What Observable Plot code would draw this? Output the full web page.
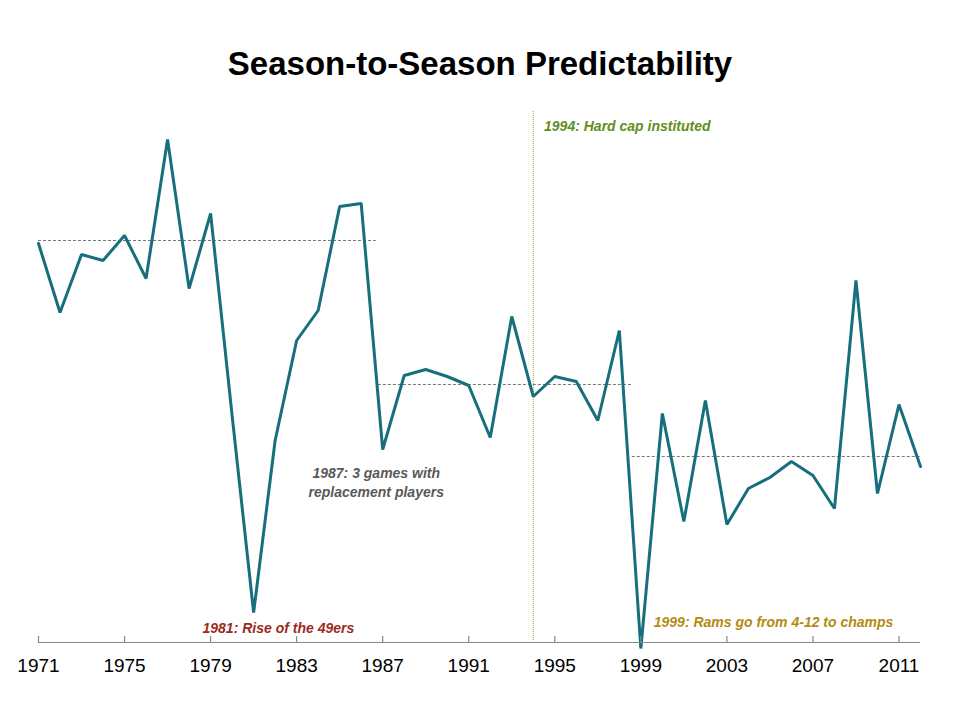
<!DOCTYPE html>
<html><head><meta charset="utf-8">
<script src="https://cdn.jsdelivr.net/npm/d3@7"></script>
<script src="https://cdn.jsdelivr.net/npm/@observablehq/plot@0.6"></script>
<style>
body{margin:0;background:#fff;font-family:"Liberation Sans",Arial,sans-serif;}
#title{height:90px;box-sizing:border-box;padding-top:44px;text-align:center;font-weight:bold;font-size:33px;line-height:40px;color:#000;}
</style></head><body>
<div id="title">Season-to-Season Predictability</div>
<div id="chart"></div>
<script>
const years = d3.range(1971, 2013);
const values = [407,338,396,390,415,372,511,362,437,235,38,210,310,340,444,447,201,275,281,274,265,213,334,254,274,269,230,320,2,237,129,250,126,162,173,189,175,142,370,157,246,184];
const eras = [{x1:1971,x2:1986.7,v:410},{x1:1986.8,x2:1998.6,v:266},{x1:1998.6,x2:2012,v:194}];
const tickYears = [1971,1975,1979,1983,1987,1991,1995,1999,2003,2007,2011];
const notesStart = [
  {x:1994.5,v:524,text:"1994: Hard cap instituted",fill:"#5f8f1a"},
  {x:1999.6,v:28,text:"1999: Rams go from 4-12 to champs",fill:"#b58a10"}
];
const notesMid = [
  {x:1986.7,v:177,text:"1987: 3 games with",fill:"#595959"},
  {x:1986.7,v:158,text:"replacement players",fill:"#595959"},
  {x:1982.15,v:22,text:"1981: Rise of the 49ers",fill:"#9b2a22"}
];
const data = years.map((y,i)=>({year:y,v:values[i]}));
const chart = Plot.plot({
  width:960, height:630, marginLeft:38, marginRight:40, marginTop:0, marginBottom:78,
  style:{fontFamily:"Liberation Sans, Arial, sans-serif"},
  x:{domain:[1971,2012], axis:null},
  y:{domain:[8,560], axis:null},
  marks:[
    Plot.ruleX([1994],{y1:10,y2:540,stroke:"#9aa640",strokeWidth:1,strokeDasharray:"1,1"}),
    Plot.ruleY(eras,{x1:"x1",x2:"x2",y:"v",stroke:"#555",strokeWidth:0.8,strokeDasharray:"3,2"}),
    Plot.line(data,{x:"year",y:"v",stroke:"#176f7d",strokeWidth:3,strokeLinejoin:"miter"}),
    Plot.ruleY([8],{x1:1971,x2:2012,stroke:"#888",strokeWidth:1.2}),
    Plot.ruleX(tickYears,{y1:8,y2:14,stroke:"#888",strokeWidth:1.2}),
    Plot.text(tickYears,{x:d=>d,y:8,dy:23,text:d=>String(d),fontSize:19,fill:"#000"}),
    Plot.text(notesStart,{x:"x",y:"v",text:"text",fill:"fill",textAnchor:"start",fontSize:14,fontWeight:"bold",fontStyle:"italic"}),
    Plot.text(notesMid,{x:"x",y:"v",text:"text",fill:"fill",textAnchor:"middle",fontSize:14,fontWeight:"bold",fontStyle:"italic"})
  ]
});
document.getElementById("chart").appendChild(chart);
</script></body></html>
